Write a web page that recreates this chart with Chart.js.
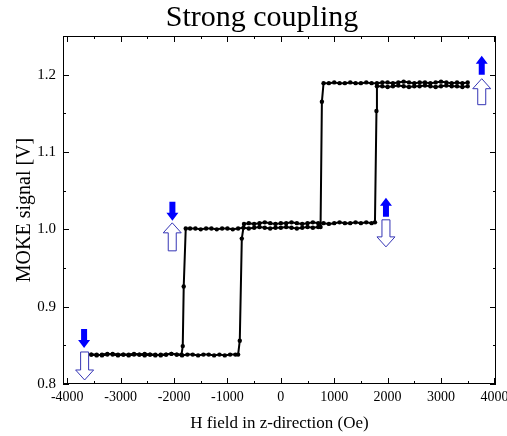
<!DOCTYPE html>
<html>
<head>
<meta charset="utf-8">
<script src="https://cdn.jsdelivr.net/npm/chart.js@4/dist/chart.umd.min.js"></script>
<style>
  html, body { margin: 0; padding: 0; background: #fff; }
  #wrap { width: 507px; height: 436px; }
</style>
</head>
<body>
<div id="wrap"><canvas id="chart"></canvas></div>
<script>
// field sweep from negative to positive (Oe) and the MOKE signal (V)
const upField = [
  -3550, -3450, -3350, -3250, -3150, -3050, -2950, -2850, -2750, -2650,
  -2550, -2450, -2350, -2250, -2150, -2050, -1950, -1850, -1750, -1650,
  -1550, -1450, -1350, -1250, -1150, -1050, -950, -850, -800, -769, -731, -690,
  -600, -500, -400, -300, -200, -100, 0, 100, 200, 300, 400, 500,
  600, 700, 800, 900, 1000, 1100, 1200, 1300, 1400, 1500, 1600, 1700,
  1763, 1791, 1800,
  1900, 2000, 2100, 2200, 2300, 2400, 2500, 2600, 2700, 2800,
  2900, 3000, 3100, 3200, 3300, 3400, 3500
];
const upSignal = [
  0.838, 0.837, 0.838, 0.839, 0.838, 0.837, 0.838, 0.838, 0.839, 0.838,
  0.837, 0.838, 0.838, 0.837, 0.838, 0.839, 0.838, 0.837, 0.838, 0.838,
  0.837, 0.838, 0.838, 0.837, 0.838, 0.837, 0.838, 0.838, 0.838, 0.856, 0.988, 1.007,
  1.008, 1.007, 1.008, 1.009, 1.008, 1.007, 1.008, 1.008, 1.009, 1.008, 1.007, 1.008,
  1.009, 1.008, 1.008, 1.007, 1.008, 1.009, 1.008, 1.008, 1.009, 1.008, 1.009, 1.008,
  1.009, 1.153, 1.185,
  1.185, 1.184, 1.185, 1.186, 1.185, 1.184, 1.185, 1.185, 1.186, 1.185,
  1.184, 1.185, 1.186, 1.185, 1.185, 1.184, 1.185
];

// field sweep back from positive to negative
const downField = [
  3500, 3400, 3300, 3200, 3100, 3000, 2900, 2800, 2700, 2600,
  2500, 2400, 2300, 2200, 2100, 2000, 1900, 1800, 1700, 1600,
  1500, 1400, 1300, 1200, 1100, 1000, 900, 800, 769, 744,
  700, 600, 500, 400, 300, 200, 100, 0, -100, -200, -300, -400,
  -500, -600, -700, -800, -900, -1000, -1100, -1200, -1300, -1400,
  -1500, -1600, -1700, -1781, -1819, -1837, -1860,
  -1950, -2050, -2150, -2250, -2350, -2450, -2550, -2650, -2750,
  -2850, -2950, -3050, -3150, -3250, -3350, -3450, -3550
];
const downSignal = [
  1.190, 1.189, 1.190, 1.189, 1.190, 1.191, 1.190, 1.189, 1.190, 1.190,
  1.189, 1.190, 1.191, 1.190, 1.189, 1.190, 1.190, 1.189, 1.189, 1.190,
  1.189, 1.189, 1.190, 1.189, 1.189, 1.190, 1.189, 1.189, 1.165, 1.003,
  1.003, 1.002, 1.003, 1.002, 1.001, 1.002, 1.003, 1.002, 1.002, 1.001, 1.002, 1.003,
  1.002, 1.001, 1.002, 1.001, 1.000, 1.001, 1.001, 1.000, 1.001, 1.001,
  1.000, 1.001, 1.001, 1.001, 0.926, 0.849, 0.838,
  0.838, 0.839, 0.838, 0.838, 0.837, 0.838, 0.839, 0.838, 0.838,
  0.837, 0.838, 0.838, 0.839, 0.838, 0.837, 0.838, 0.838
];

const xTicks = [-4000, -3000, -2000, -1000, 0, 1000, 2000, 3000, 4000];
const yTicks = [0.8, 0.9, 1.0, 1.1, 1.2];

// blue arrows showing the magnetisation of the two layers (data coords)
const arrows = [
  { x: -3685, from: 0.8712, to: 0.8466, solid: true },
  { x: -3675, from: 0.8414, to: 0.8052, solid: false },
  { x: -2031, from: 1.0356, to: 1.0110, solid: true },
  { x: -2034, from: 0.9722, to: 1.0084, solid: false },
  { x: 1969, from: 1.0162, to: 1.0408, solid: true },
  { x: 1969, from: 1.0123, to: 0.9773, solid: false },
  { x: 3763, from: 1.2000, to: 1.2246, solid: true },
  { x: 3763, from: 1.1612, to: 1.1948, solid: false }
];

function toPoints(xs, ys) {
  return xs.map((x, i) => ({ x: x, y: ys[i] }));
}

function drawArrow(ctx, x, y0, y1, solid) {
  const dir = y1 > y0 ? 1 : -1;
  const shaftW = solid ? 3 : 4;
  const headW = solid ? 6 : 9;
  const headL = solid ? 8 : 10;
  const yb = y1 - dir * headL;
  ctx.beginPath();
  ctx.moveTo(x - shaftW, y0);
  ctx.lineTo(x + shaftW, y0);
  ctx.lineTo(x + shaftW, yb);
  ctx.lineTo(x + headW, yb);
  ctx.lineTo(x, y1);
  ctx.lineTo(x - headW, yb);
  ctx.lineTo(x - shaftW, yb);
  ctx.closePath();
  if (solid) {
    ctx.fillStyle = '#0000ff';
    ctx.fill();
  } else {
    ctx.fillStyle = '#ffffff';
    ctx.fill();
    ctx.strokeStyle = '#3535b5';
    ctx.lineWidth = 1;
    ctx.stroke();
  }
}

const framePlugin = {
  id: 'frame',
  afterDraw(chart) {
    const { ctx, chartArea: a, scales: { x, y } } = chart;
    ctx.save();
    ctx.strokeStyle = '#000';
    ctx.lineWidth = 1;
    ctx.strokeRect(Math.round(a.left) + 0.5, Math.round(a.top) + 0.5,
      Math.round(a.right - a.left) - 1, Math.round(a.bottom - a.top) - 1);

    ctx.beginPath();
    xTicks.forEach((v, i) => {
      const p = Math.round(x.getPixelForValue(v)) + 0.5;
      ctx.moveTo(p, a.bottom); ctx.lineTo(p, a.bottom - 6);
      ctx.moveTo(p, a.top); ctx.lineTo(p, a.top + 6);
      if (i < xTicks.length - 1) {
        const m = Math.round(x.getPixelForValue(v + 500)) + 0.5;
        ctx.moveTo(m, a.bottom); ctx.lineTo(m, a.bottom - 3);
        ctx.moveTo(m, a.top); ctx.lineTo(m, a.top + 3);
      }
    });
    yTicks.forEach(v => {
      const p = Math.round(y.getPixelForValue(v)) + 0.5;
      ctx.moveTo(a.left, p); ctx.lineTo(a.left + 6, p);
      ctx.moveTo(a.right, p); ctx.lineTo(a.right - 6, p);
      const m = Math.round(y.getPixelForValue(v + 0.05)) + 0.5;
      ctx.moveTo(a.left, m); ctx.lineTo(a.left + 3, m);
      ctx.moveTo(a.right, m); ctx.lineTo(a.right - 3, m);
    });
    ctx.stroke();

    arrows.forEach(ar => {
      drawArrow(ctx, x.getPixelForValue(ar.x), y.getPixelForValue(ar.from),
        y.getPixelForValue(ar.to), ar.solid);
    });

    ctx.fillStyle = '#000';
    ctx.font = '30px "Liberation Serif"';
    ctx.textAlign = 'center';
    ctx.textBaseline = 'alphabetic';
    ctx.fillText('Strong coupling', 262, 26);
    ctx.restore();
  }
};

const lineStyle = {
  showLine: true,
  borderColor: '#000',
  backgroundColor: '#000',
  borderWidth: 2,
  pointRadius: 2.2,
  pointBorderWidth: 0,
  tension: 0
};

new Chart(document.getElementById('chart'), {
  type: 'scatter',
  data: {
    datasets: [
      Object.assign({ label: 'up', data: toPoints(upField, upSignal) }, lineStyle),
      Object.assign({ label: 'down', data: toPoints(downField, downSignal) }, lineStyle)
    ]
  },
  options: {
    responsive: true,
    maintainAspectRatio: false,
    animation: false,
    layout: { padding: { top: 36, right: 11, left: 0, bottom: 0 } },
    plugins: { legend: { display: false }, tooltip: { enabled: false } },
    scales: {
      x: {
        type: 'linear',
        min: -4080,
        max: 4030,
        grid: { display: false, drawTicks: false },
        border: { display: false },
        afterBuildTicks: s => { s.ticks = xTicks.map(v => ({ value: v })); },
        afterFit: s => { s.height = 52; s.paddingLeft = 0; s.paddingRight = 0; },
        ticks: {
          color: '#000', padding: 5, maxRotation: 0, autoSkip: false,
          font: { family: 'Liberation Serif', size: 14 },
          callback: v => String(v)
        },
        title: {
          display: true, text: 'H field in z-direction (Oe)', color: '#000',
          font: { family: 'Liberation Serif', size: 17 },
          padding: { top: 0, bottom: 2 }
        }
      },
      y: {
        type: 'linear',
        min: 0.8,
        max: 1.25,
        grid: { display: false, drawTicks: false },
        border: { display: false },
        afterBuildTicks: s => { s.ticks = yTicks.map(v => ({ value: v })); },
        afterFit: s => { s.width = 63; s.paddingTop = 0; s.paddingBottom = 0; },
        ticks: {
          color: '#000', padding: 7,
          font: { family: 'Liberation Serif', size: 15 },
          callback: v => v.toFixed(1)
        },
        title: {
          display: true, text: 'MOKE signal [V]', color: '#000',
          font: { family: 'Liberation Serif', size: 20 },
          padding: { top: 13, bottom: 0 }
        }
      }
    }
  },
  plugins: [framePlugin]
});
</script>
</body>
</html>
